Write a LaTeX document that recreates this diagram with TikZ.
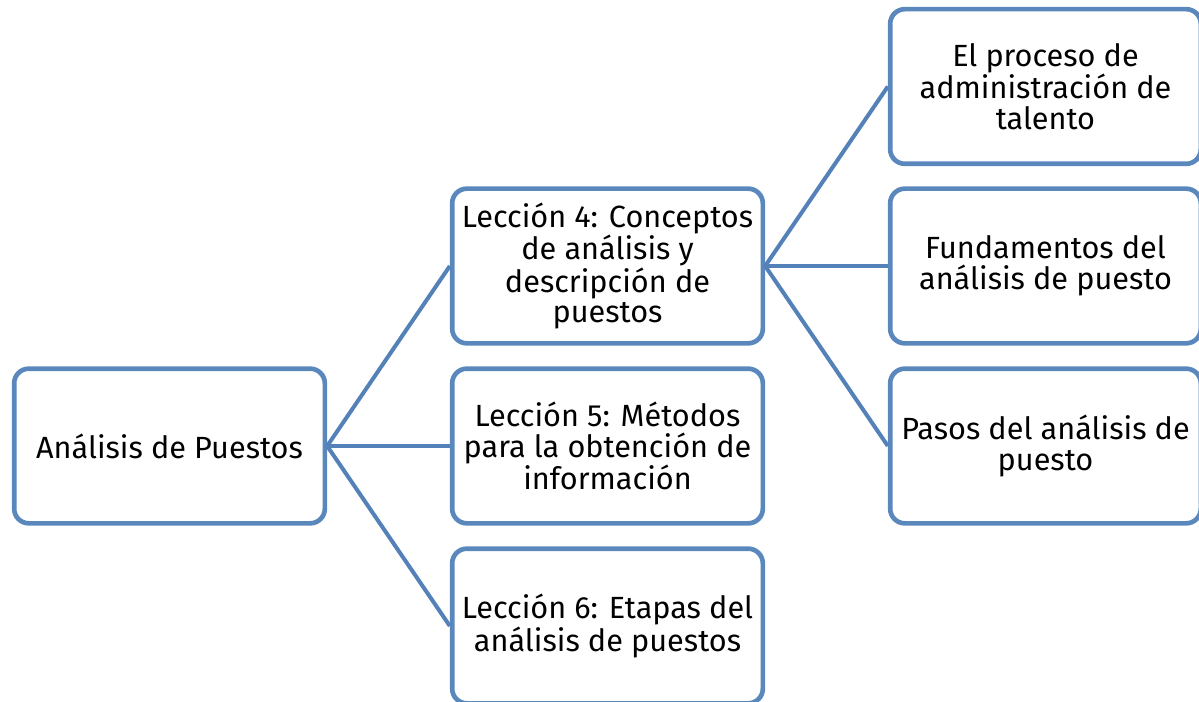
\documentclass[tikz,border=0pt]{standalone}
\usepackage{fontspec}
\setmainfont{Fira Sans}
\definecolor{boxblue}{HTML}{5A88BD}
\definecolor{lineblue}{HTML}{5481B8}
\begin{document}
\begin{tikzpicture}[x=0.75pt,y=-0.75pt,
  box/.style={draw=boxblue, line width=3.5pt, rounded corners=11pt, fill=white,
    minimum width=233pt, minimum height=116pt, align=center, inner sep=0pt,
    font=\fontsize{23}{23}\selectfont, text=black},
  conn/.style={draw=lineblue, line width=3pt}]
\useasboundingbox (0,0) rectangle (1199,702);
\node[box] (root) at (169.5,446) {Análisis de Puestos};
\node[box] (l4) at (607.5,266) {Lección 4: Conceptos\\de análisis y\\descripción de\\puestos};
\node[box] (l5) at (607.5,446) {Lección 5: Métodos\\para la obtención de\\información};
\node[box] (l6) at (607.5,626) {Lección 6: Etapas del\\análisis de puestos};
\node[box] (t1) at (1045.5,86.5) {El proceso de\\administración de\\talento};
\node[box] (t2) at (1045.5,266) {Fundamentos del\\análisis de puesto};
\node[box] (t3) at (1045.5,446) {Pasos del análisis de\\puesto};
\draw[conn] (root.east) -- (l4.west);
\draw[conn] (root.east) -- (l5.west);
\draw[conn] (root.east) -- (l6.west);
\draw[conn] (l4.east) -- (t1.west);
\draw[conn] (l4.east) -- (t2.west);
\draw[conn] (l4.east) -- (t3.west);
\end{tikzpicture}
\end{document}
